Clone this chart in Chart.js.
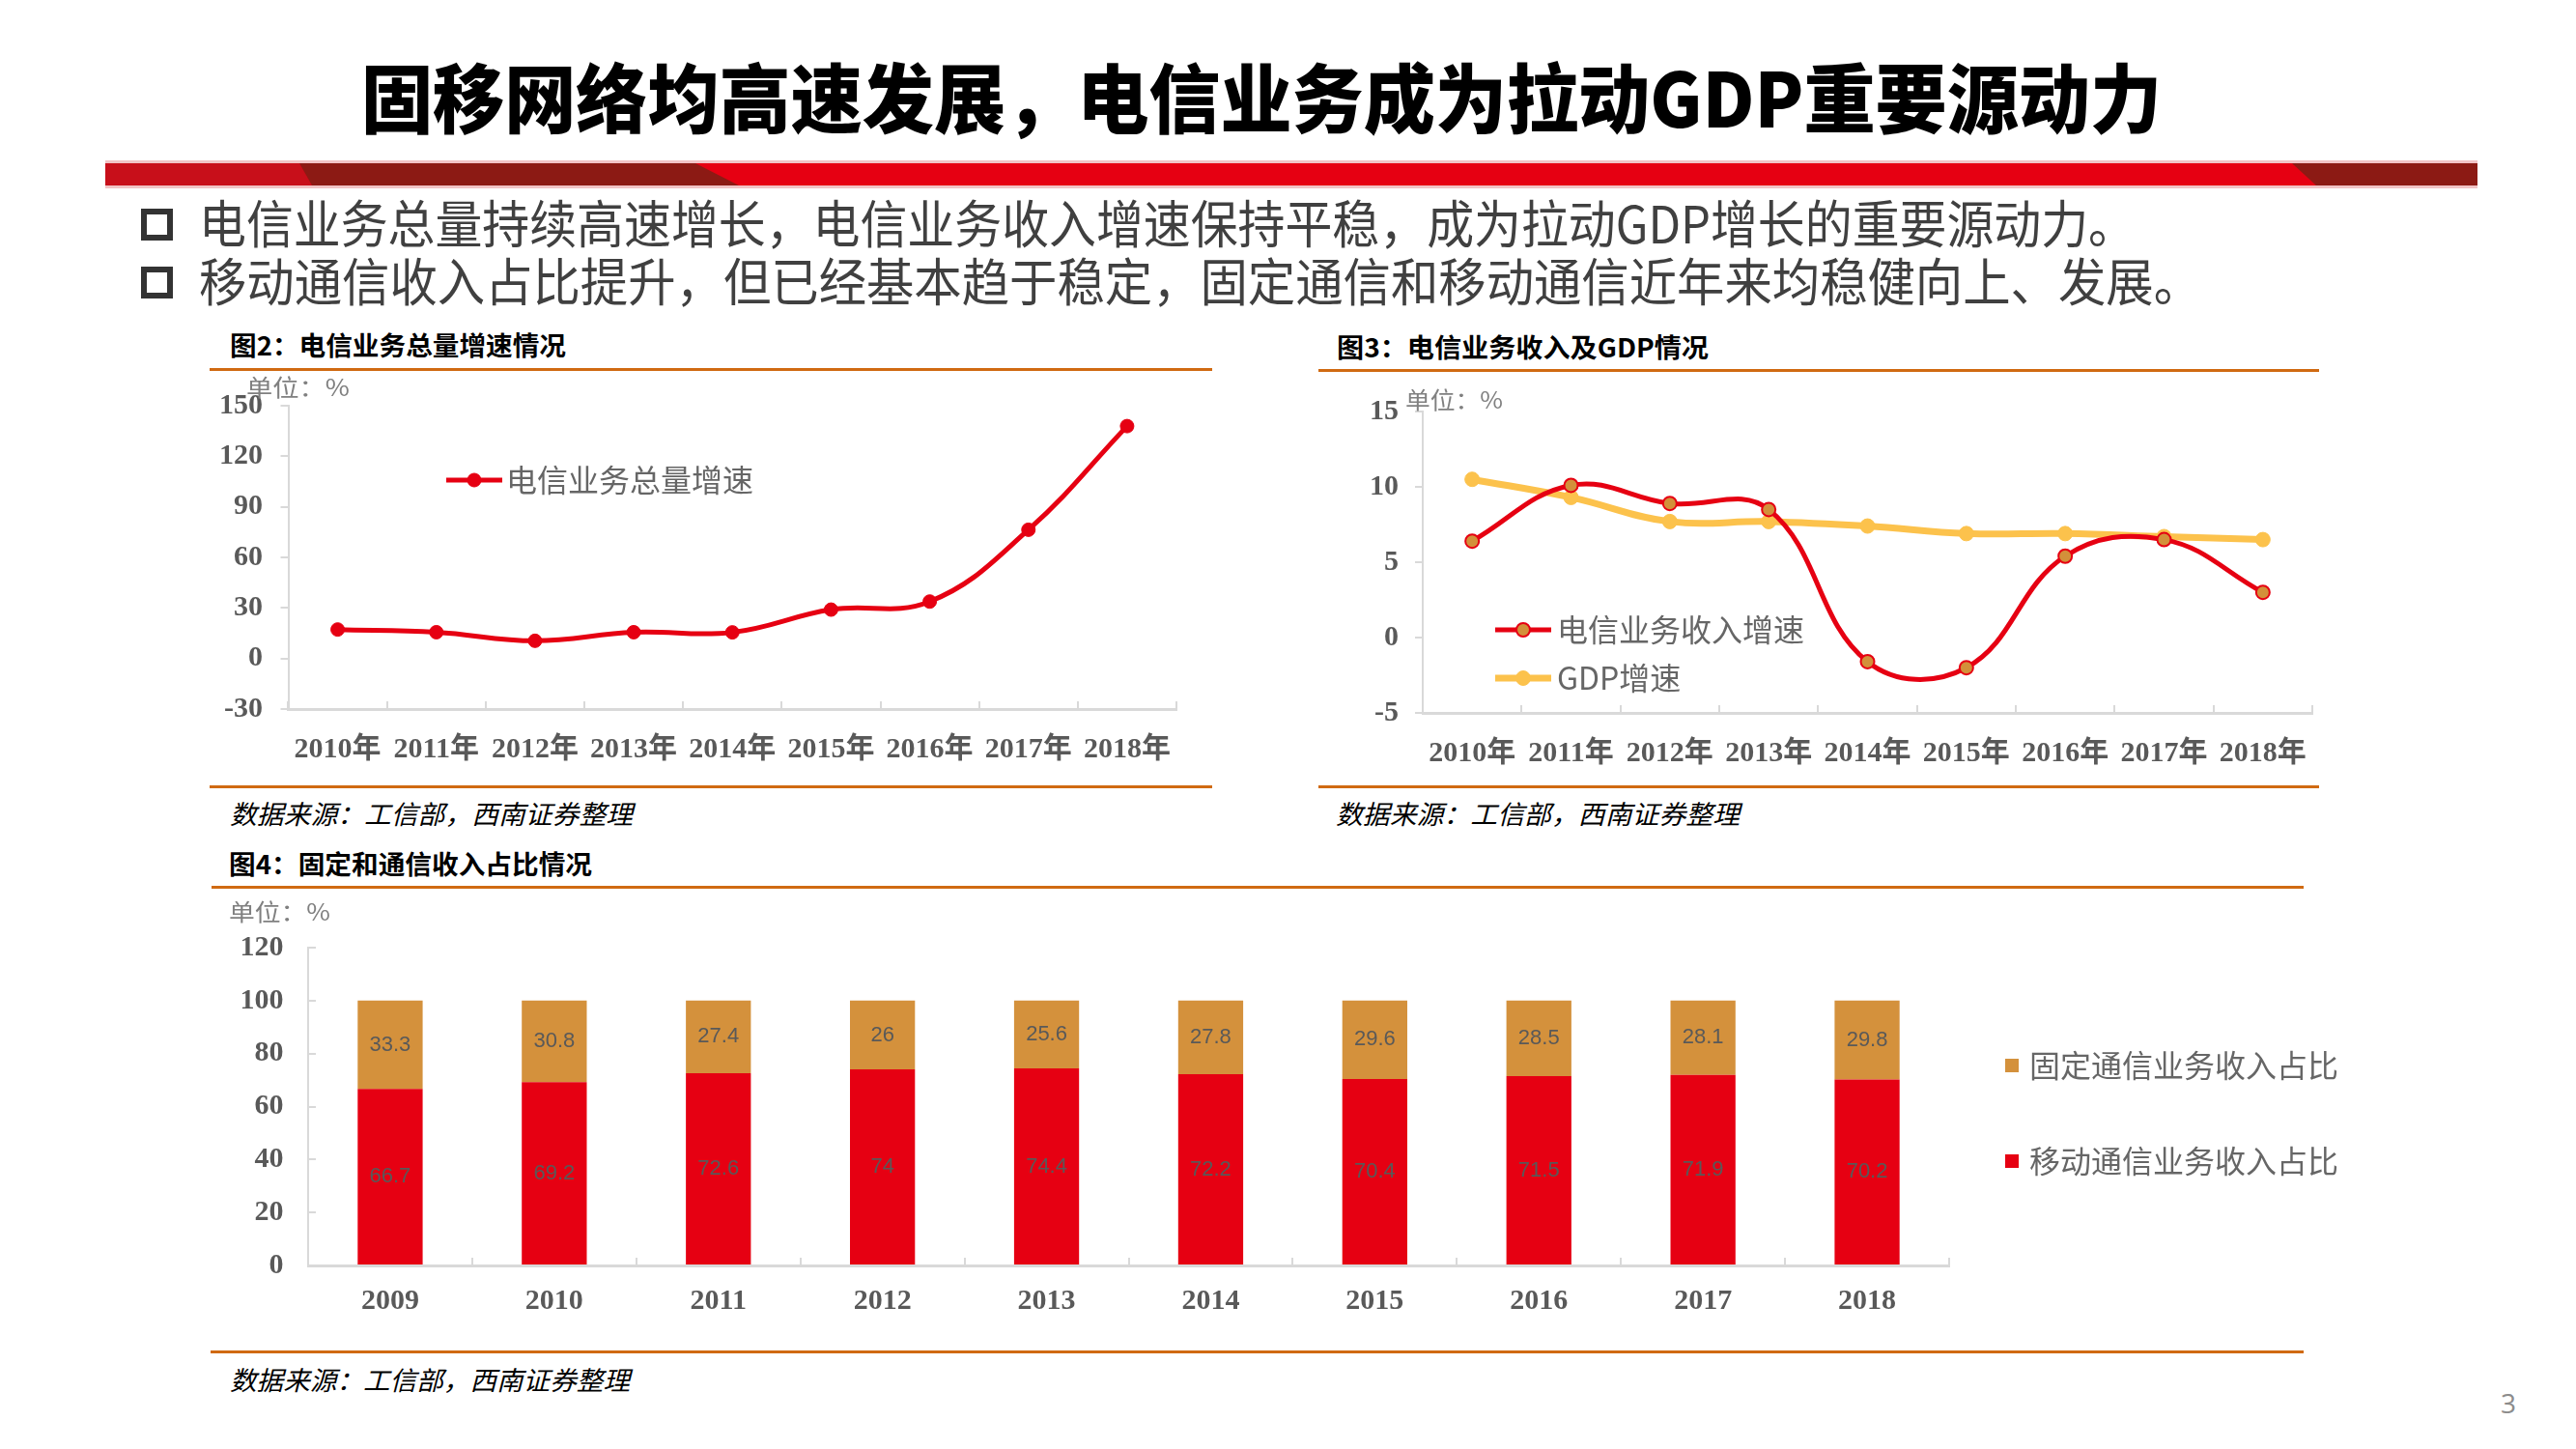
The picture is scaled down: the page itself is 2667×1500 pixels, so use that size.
<!DOCTYPE html>
<html>
<head>
<meta charset="utf-8">
<script src="https://cdn.jsdelivr.net/npm/chart.js@4.4.1/dist/chart.umd.min.js"></script>
<style>
  body { margin: 0; width: 2667px; height: 1500px; background: #fff; position: relative; overflow: hidden;
         font-family: "Noto Sans CJK SC", sans-serif; }
  .t { position: absolute; white-space: nowrap; transform-origin: 0 50%; line-height: 1; }
  .rule { position: absolute; height: 3px; background: #d06a12; }
  .sq { position: absolute; width: 33px; height: 33px; box-sizing: border-box; border: 6px solid #333; }
  .wrap { position: absolute; }
</style>
</head>
<body>
<svg width="2667" height="200" style="position:absolute;left:0;top:0">
  <rect x="109" y="166" width="2456" height="29" fill="#f1c3c5"/>
  <rect x="109" y="169" width="2456" height="23" fill="#e60012"/>
  <polygon points="109,169 310,169 323,192 109,192" fill="#c80f1a"/>
  <polygon points="310,169 720,169 765,192 323,192" fill="#8c1a14"/>
  <polygon points="2373,169 2565,169 2565,192 2398,192" fill="#8c1a14"/>
</svg>

<div class="sq" style="left:146px;top:216px"></div>
<div class="sq" style="left:146px;top:276px"></div>

<div class="rule" style="left:217px;top:381px;width:1038px"></div>
<div class="rule" style="left:217px;top:813px;width:1038px"></div>
<div class="rule" style="left:1365px;top:382px;width:1036px"></div>
<div class="rule" style="left:1365px;top:813px;width:1036px"></div>
<div class="rule" style="left:219px;top:917px;width:2166px"></div>
<div class="rule" style="left:218px;top:1398px;width:2167px"></div>

<div class="wrap" style="left:218px;top:395px;width:1040px;height:410px"><canvas id="c2"></canvas></div>
<div class="wrap" style="left:1393px;top:401px;width:1031px;height:409px"><canvas id="c3"></canvas></div>
<div class="wrap" style="left:238px;top:955px;width:2212px;height:425px"><canvas id="c4"></canvas></div>

<script>
// 图2 电信业务总量增速
const years2 = ['2010年', '2011年', '2012年', '2013年', '2014年', '2015年', '2016年', '2017年', '2018年'];
const volumeGrowth = [17.2, 15.6, 10.5, 15.6, 15.5, 29.0, 33.8, 76.4, 137.9];

// 图3 电信业务收入增速 / GDP增速
const years3 = ['2010年', '2011年', '2012年', '2013年', '2014年', '2015年', '2016年', '2017年', '2018年'];
const revenueGrowth = [6.4, 10.1, 8.9, 8.5, -1.6, -2.0, 5.4, 6.5, 3.0];
const gdpGrowth = [10.5, 9.3, 7.7, 7.7, 7.4, 6.9, 6.9, 6.7, 6.5];

// 图4 固定/移动通信收入占比
const years4 = ['2009', '2010', '2011', '2012', '2013', '2014', '2015', '2016', '2017', '2018'];
const mobileShare = [66.7, 69.2, 72.6, 74, 74.4, 72.2, 70.4, 71.5, 71.9, 70.2];
const fixedShare = [33.3, 30.8, 27.4, 26, 25.6, 27.8, 29.6, 28.5, 28.1, 29.8];

// text helper: left x, centre y, font size, target width
function place(txt, x, cy, size, w, style) {
    const d = document.createElement('div');
    d.className = 't';
    d.textContent = txt;
    d.style.cssText = 'left:' + x + 'px;top:' + (cy - size / 2) + 'px;font-size:' + size + 'px;' + (style || '');
    document.body.appendChild(d);
    const nat = d.getBoundingClientRect().width;
    if (w) d.style.transform = 'scaleX(' + (w / nat) + ')';
}

place('固移网络均高速发展，电信业务成为拉动GDP重要源动力', 374, 98, 78, 1864, 'font-weight:900;color:#000;');
place('电信业务总量持续高速增长，电信业务收入增速保持平稳，成为拉动GDP增长的重要源动力。', 206, 229, 53, 2005, 'color:#404040;');
place('移动通信收入占比提升，但已经基本趋于稳定，固定通信和移动通信近年来均稳健向上、发展。', 206, 289, 53, 2073, 'color:#404040;');

place('图2：电信业务总量增速情况', 238, 356, 27, 348, 'font-weight:bold;color:#000;');
place('图3：电信业务收入及GDP情况', 1384, 358, 27, 385, 'font-weight:bold;color:#000;');
place('图4：固定和通信收入占比情况', 237, 893, 27, 376, 'font-weight:bold;color:#000;');

place('单位：%', 255, 400, 24, 107, 'color:#808080;');
place('单位：%', 1455, 413, 24, 101, 'color:#808080;');
place('单位：%', 237, 943, 24, 105, 'color:#808080;');

place('数据来源：工信部，西南证券整理', 238, 841, 27, 417, 'font-style:italic;color:#000;');
place('数据来源：工信部，西南证券整理', 1383, 841, 27, 418, 'font-style:italic;color:#000;');
place('数据来源：工信部，西南证券整理', 238, 1427, 27, 414, 'font-style:italic;color:#000;');

place('3', 2589, 1452, 28, 0, 'color:#8c8c8c;font-family:"Open Sans";');

// legend drawn inside the canvas at fixed canvas coordinates
const legendInside = {
    id: 'legendInside',
    afterDraw(chart, args, o) {
        const ctx = chart.ctx;
        ctx.save();
        ctx.font = o.font;
        ctx.textBaseline = 'middle';
        o.order.forEach((idx, k) => {
            const ds = chart.data.datasets[idx];
            const y = o.y + k * o.gap;
            if (o.kind === 'line') {
                ctx.strokeStyle = ds.borderColor;
                ctx.lineWidth = ds.borderWidth;
                ctx.beginPath();
                ctx.moveTo(o.x, y);
                ctx.lineTo(o.x + o.len, y);
                ctx.stroke();
                ctx.beginPath();
                ctx.arc(o.x + o.len / 2, y, ds.pointRadius, 0, Math.PI * 2);
                ctx.fillStyle = ds.pointBackgroundColor;
                ctx.fill();
                ctx.lineWidth = ds.pointBorderWidth;
                ctx.strokeStyle = ds.pointBorderColor;
                ctx.stroke();
            } else {
                ctx.fillStyle = ds.backgroundColor;
                ctx.fillRect(o.x, y - o.len / 2, o.len, o.len);
            }
            ctx.fillStyle = '#666';
            ctx.fillText(ds.label, o.textX, y);
        });
        ctx.restore();
    }
};

const barLabels = {
    id: 'barLabels',
    afterDatasetsDraw(chart) {
        const ctx = chart.ctx;
        ctx.save();
        ctx.font = '22px "Liberation Sans"';
        ctx.fillStyle = '#595959';
        ctx.textAlign = 'center';
        ctx.textBaseline = 'middle';
        chart.data.datasets.forEach((ds, i) => {
            chart.getDatasetMeta(i).data.forEach((bar, j) => {
                ctx.fillText(String(ds.data[j]), bar.x, (bar.y + bar.base) / 2);
            });
        });
        ctx.restore();
    }
};

const tickFont = { family: '"Liberation Serif", "Noto Sans CJK SC"', size: 30, weight: 'bold' };

function yAxis(min, max, step, width, tl, pad) {
    return {
        min: min, max: max,
        ticks: { stepSize: step, color: '#595959', font: tickFont, padding: pad },
        grid: { drawOnChartArea: false, drawTicks: true, tickLength: tl, color: '#d9d9d9', lineWidth: 2 },
        border: { color: '#d9d9d9', width: 2 },
        afterFit: s => { s.width = width; s.paddingTop = 0; s.paddingBottom = 0; }
    };
}

function xAxis(height, pad) {
    return {
        offset: true,
        ticks: { color: '#595959', font: tickFont, padding: pad, maxRotation: 0, autoSkip: false },
        grid: { offset: true, drawOnChartArea: false, drawTicks: true, tickLength: -8, color: '#d9d9d9', lineWidth: 2 },
        border: { color: '#d9d9d9', width: 3 },
        afterFit: s => { s.height = height; s.paddingLeft = 0; s.paddingRight = 0; }
    };
}

Chart.defaults.animation = false;

new Chart(document.getElementById('c2'), {
    type: 'line',
    data: {
        labels: years2,
        datasets: [{
            label: '电信业务总量增速',
            data: volumeGrowth,
            borderColor: '#e60012',
            borderWidth: 5,
            pointRadius: 7,
            pointBackgroundColor: '#e60012',
            pointBorderColor: '#e60012',
            pointBorderWidth: 1,
            tension: 0.4
        }]
    },
    options: {
        responsive: true,
        maintainAspectRatio: false,
        layout: { padding: { top: 25, right: 40, left: 0, bottom: 0 } },
        plugins: {
            legend: { display: false },
            tooltip: { enabled: false },
            legendInside: { kind: 'line', order: [0], x: 244, len: 58, y: 102, gap: 0, textX: 306, font: '32px "Noto Sans CJK SC"' }
        },
        scales: {
            y: yAxis(-30, 150, 30, 80.5, 8, 18.5),
            x: xAxis(71, 32)
        }
    },
    plugins: [legendInside]
});

new Chart(document.getElementById('c3'), {
    type: 'line',
    data: {
        labels: years3,
        datasets: [{
            label: '电信业务收入增速',
            data: revenueGrowth,
            borderColor: '#e60012',
            borderWidth: 5,
            pointRadius: 7,
            pointBackgroundColor: '#d3903a',
            pointBorderColor: '#e60012',
            pointBorderWidth: 2,
            tension: 0.4
        }, {
            label: 'GDP增速',
            data: gdpGrowth,
            borderColor: '#fcc24c',
            borderWidth: 7,
            pointRadius: 7.5,
            pointBackgroundColor: '#fcc24c',
            pointBorderColor: '#fcc24c',
            pointBorderWidth: 1,
            tension: 0.4
        }]
    },
    options: {
        responsive: true,
        maintainAspectRatio: false,
        layout: { padding: { top: 25, right: 30, left: 0, bottom: 0 } },
        plugins: {
            legend: { display: false },
            tooltip: { enabled: false },
            legendInside: { kind: 'line', order: [0, 1], x: 155, len: 58, y: 251, gap: 50, textX: 219, font: '32px "Noto Sans CJK SC"' }
        },
        scales: {
            y: yAxis(-5, 15, 5, 80, 8, 17),
            x: xAxis(72, 32)
        }
    },
    plugins: [legendInside]
});

new Chart(document.getElementById('c4'), {
    type: 'bar',
    data: {
        labels: years4,
        datasets: [{
            label: '移动通信业务收入占比',
            data: mobileShare,
            backgroundColor: '#e60012'
        }, {
            label: '固定通信业务收入占比',
            data: fixedShare,
            backgroundColor: '#d4913c'
        }]
    },
    options: {
        responsive: true,
        maintainAspectRatio: false,
        datasets: { bar: { categoryPercentage: 1, barPercentage: 0.396 } },
        layout: { padding: { top: 26, right: 432, left: 0, bottom: 0 } },
        plugins: {
            legend: { display: false },
            tooltip: { enabled: false },
            legendInside: { kind: 'box', order: [1, 0], x: 1838, len: 14, y: 148, gap: 99, textX: 1863, font: '32px "Noto Sans CJK SC"' }
        },
        scales: {
            y: Object.assign(yAxis(0, 120, 20, 81, -8, 33.6), { stacked: true }),
            x: Object.assign(xAxis(70, 27), { stacked: true })
        }
    },
    plugins: [legendInside, barLabels]
});
</script>
</body>
</html>
